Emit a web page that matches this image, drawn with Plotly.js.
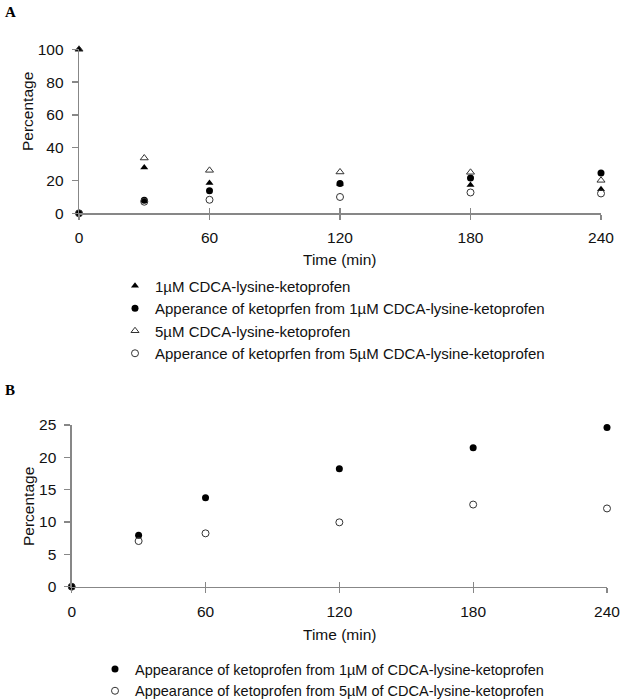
<!DOCTYPE html>
<html>
<head>
<meta charset="utf-8">
<script src="https://cdn.plot.ly/plotly-3.0.1.min.js"></script>
<style>html,body{margin:0;padding:0;background:#fff;overflow:hidden;}#chart{width:624px;height:699px;}</style>
</head>
<body>
<div id="chart"></div>
<script>
// ---- data ----
const timeMin = [0, 30, 60, 120, 180, 240];
const tickTimes = [0, 60, 120, 180, 240];
const conj1uM = [100, 28.0, 18.5, 18.0, 17.3, 14.6];
const conj5uM = [100, 33.7, 26.2, 25.2, 25.0, 20.1];
const keto1uM = [0, 7.95, 13.76, 18.24, 21.5, 24.6];
const keto5uM = [0, 7.06, 8.25, 9.95, 12.7, 12.1];

const namesA = [
  "1µM CDCA-lysine-ketoprofen",
  "Apperance of ketoprfen from 1µM CDCA-lysine-ketoprofen",
  "5µM CDCA-lysine-ketoprofen",
  "Apperance of ketoprfen from 5µM CDCA-lysine-ketoprofen"
];
const namesB = [
  "Appearance of ketoprofen from 1µM of CDCA-lysine-ketoprofen",
  "Appearance of ketoprofen from 5µM of CDCA-lysine-ketoprofen"
];

const W = 624, H = 699;
const px = v => v / W;
const py = v => 1 - v / H;
const FONT = "Liberation Sans, Arial, sans-serif";
const FS = 15.5;
const AX = "#878787";

function mk(sym, filled) {
  return filled
    ? {symbol: sym, size: 7, color: "#000", line: {width: 0}}
    : {symbol: sym + "-open", size: 7, color: "#333", line: {width: 1, color: "#333"}};
}
function tr(y, name, marker, xa, ya, lg) {
  return {x: timeMin, y: y, name: name, type: "scatter", mode: "markers", marker: marker,
          xaxis: xa, yaxis: ya, legend: lg, cliponaxis: false};
}

const traces = [
  tr(conj1uM, namesA[0], mk("triangle-up", true), "x", "y", "legend"),
  tr(keto1uM, namesA[1], mk("circle", true), "x", "y", "legend"),
  tr(conj5uM, namesA[2], mk("triangle-up", false), "x", "y", "legend"),
  tr(keto5uM, namesA[3], mk("circle", false), "x", "y", "legend"),
  tr(keto1uM, namesB[0], mk("circle", true), "x2", "y2", "legend2"),
  tr(keto5uM, namesB[1], mk("circle", false), "x2", "y2", "legend2"),
  // empty helper traces so the inner-tick overlay axes are drawn
  {x: [], y: [], xaxis: "x3", yaxis: "y", showlegend: false, hoverinfo: "skip"},
  {x: [], y: [], xaxis: "x4", yaxis: "y2", showlegend: false, hoverinfo: "skip"}
];

const xCommon = {
  range: [0, 240], tickvals: tickTimes, ticktext: tickTimes.map(String),
  showgrid: false, zeroline: false, showline: true, linecolor: AX, linewidth: 1.3,
  ticks: "outside", ticklen: 5, tickcolor: AX, tickwidth: 1.3,
  tickfont: {family: FONT, size: FS, color: "#111"}, ticklabelstandoff: 5,
  automargin: false, fixedrange: true
};
const yCommon = {
  showgrid: false, zeroline: false, showline: true, linecolor: AX, linewidth: 1.3,
  ticks: "outside", ticklen: 6, tickcolor: AX, tickwidth: 1.3,
  tickfont: {family: FONT, size: FS, color: "#111"}, ticklabelstandoff: 5,
  automargin: false, fixedrange: true
};
const innerTicks = {
  range: [0, 240], tickvals: tickTimes, showticklabels: false, showgrid: false, zeroline: false,
  showline: false, ticks: "inside", ticklen: 5, tickcolor: AX, tickwidth: 1.3, automargin: false, fixedrange: true
};
function ann(text, x, y, angle, font) {
  return {text: text, xref: "paper", yref: "paper", x: px(x), y: py(y), xanchor: "center", yanchor: "middle",
          textangle: angle || 0, showarrow: false, font: font || {family: FONT, size: FS, color: "#111"}};
}
const serif = {family: "Liberation Serif, Times New Roman, serif", size: 15, color: "#000"};

const layout = {
  width: W, height: H,
  margin: {l: 0, r: 0, t: 0, b: 0, autoexpand: false},
  paper_bgcolor: "#fff", plot_bgcolor: "rgba(0,0,0,0)",
  font: {family: FONT, size: FS, color: "#111"},
  xaxis: Object.assign({}, xCommon, {domain: [px(79), px(601)], anchor: "y"}),
  yaxis: Object.assign({}, yCommon, {domain: [py(213.3), py(49.3)], range: [0, 100], tickvals: [0, 20, 40, 60, 80, 100], anchor: "x"}),
  xaxis2: Object.assign({}, xCommon, {domain: [px(71.7), px(607)], anchor: "y2"}),
  yaxis2: Object.assign({}, yCommon, {domain: [py(586.7), py(425)], range: [0, 25], tickvals: [0, 5, 10, 15, 20, 25], anchor: "x2"}),
  xaxis3: Object.assign({}, innerTicks, {domain: [px(79), px(601)], anchor: "y", overlaying: "x"}),
  xaxis4: Object.assign({}, innerTicks, {domain: [px(71.7), px(607)], anchor: "y2", overlaying: "x2"}),
  legend: {x: px(115), y: py(269.5), xanchor: "left", yanchor: "top", bgcolor: "rgba(0,0,0,0)",
           font: {family: FONT, size: 15, color: "#111"}, tracegroupgap: 0, itemclick: false},
  legend2: {x: px(95), y: py(653), xanchor: "left", yanchor: "top", bgcolor: "rgba(0,0,0,0)",
            font: {family: FONT, size: 14.5, color: "#111"}, tracegroupgap: 0, itemclick: false},
  showlegend: true,
  annotations: [
    ann("<b>A</b>", 10, 12, 0, serif),
    ann("<b>B</b>", 10, 390, 0, serif),
    ann("Percentage", 27, 112, -90),
    ann("Time (min)", 340, 259, 0),
    ann("Percentage", 28, 507, -90),
    ann("Time (min)", 340, 634, 0)
  ]
};

Plotly.newPlot("chart", traces, layout, {displayModeBar: false, staticPlot: true});
</script>
</body>
</html>
